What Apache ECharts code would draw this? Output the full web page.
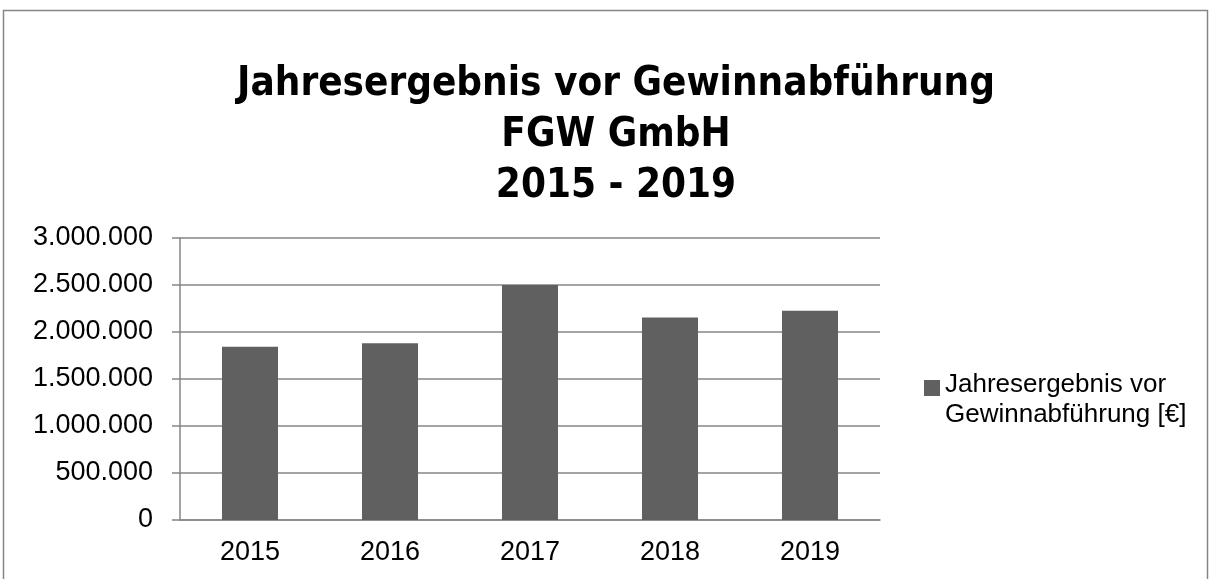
<!DOCTYPE html>
<html>
<head>
<meta charset="utf-8">
<script src="https://cdn.jsdelivr.net/npm/echarts@6/dist/echarts.min.js"></script>
<style>
  html, body { margin: 0; padding: 0; background: #fff; }
  #main { width: 1212px; height: 579px; }
</style>
</head>
<body>
<div id="main"></div>
<script>
const years = ["2015", "2016", "2017", "2018", "2019"];
const ergebnis = [1842000, 1881000, 2499000, 2153000, 2227000];
const seriesName = "Jahresergebnis vor\nGewinnabführung [€]";
const titleLines = ["Jahresergebnis vor Gewinnabführung", "FGW GmbH", "2015 - 2019"];

const chart = echarts.init(document.getElementById("main"));

// Tausenderpunkte wie im Original
function fmt(v) {
  return String(v).replace(/\B(?=(\d{3})+(?!\d))/g, ".");
}

const option = {
  animation: false,
  textStyle: { fontFamily: "Liberation Sans" },
  title: {
    text: titleLines.join("\n"),
    left: 611,
    top: 54,
    textAlign: "center",
    textStyle: {
      fontFamily: "'DejaVu Sans Condensed', 'Liberation Sans Narrow', 'Liberation Sans'",
      fontWeight: "bold",
      fontSize: 40,
      lineHeight: 51,
      color: "#000"
    }
  },
  graphic: [{
    type: "rect",
    shape: { x: 3.5, y: 10.5, width: 1204, height: 620 },
    style: { fill: null, stroke: "#868686", lineWidth: 1.5 },
    silent: true
  }],
  legend: {
    left: 919,
    top: 365,
    orient: "vertical",
    // Quadrat oben, damit es neben der ersten Zeile steht
    icon: "path://M0,0H16V16H0Z M0,40L16,40",
    itemWidth: 16,
    itemHeight: 40,
    textStyle: {
      fontSize: 26,
      lineHeight: 30,
      color: "#000"
    },
    data: [seriesName]
  },
  grid: { left: 180, right: 332, top: 238, bottom: 59 },
  xAxis: {
    type: "category",
    data: years,
    axisLine: { lineStyle: { color: "#868686", width: 1.5 } },
    axisTick: { length: 8, lineStyle: { color: "#868686", width: 1.5 } },
    axisLabel: { fontSize: 27, color: "#000", margin: 19 }
  },
  yAxis: {
    type: "value",
    min: 0,
    max: 3000000,
    interval: 500000,
    axisLine: { show: true, lineStyle: { color: "#868686", width: 1.5 } },
    axisTick: { show: true, length: 8, lineStyle: { color: "#868686", width: 1.5 } },
    splitLine: { lineStyle: { color: "#868686", width: 1.5 } },
    axisLabel: { fontSize: 27, color: "#000", margin: 27, formatter: fmt }
  },
  series: [{
    name: seriesName,
    type: "bar",
    barWidth: "40%",
    itemStyle: { color: "#606060" },
    data: ergebnis
  }]
};

chart.setOption(option);
</script>
</body>
</html>
